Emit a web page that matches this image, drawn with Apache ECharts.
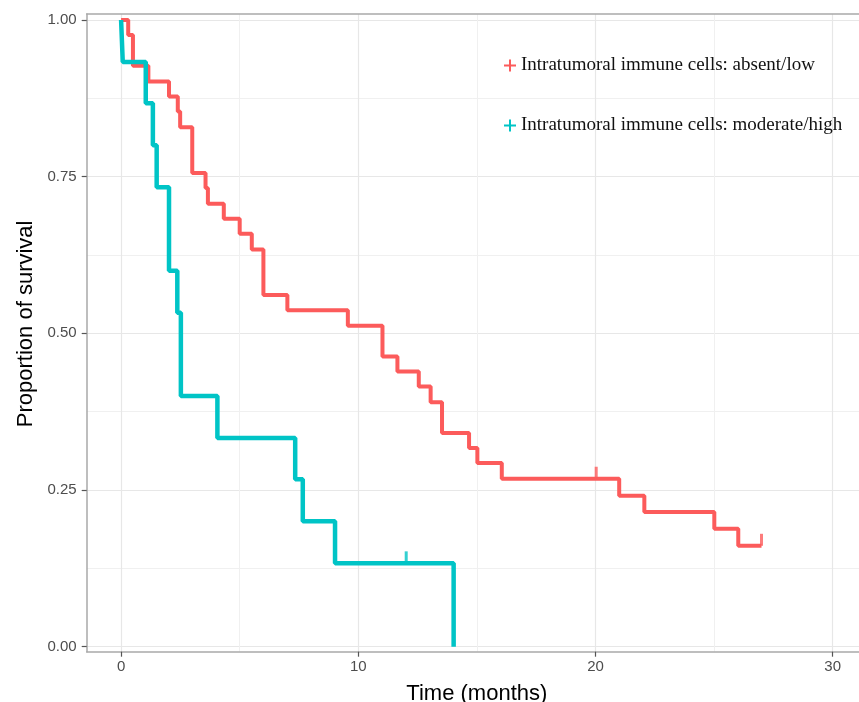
<!DOCTYPE html>
<html>
<head>
<meta charset="utf-8">
<script src="https://cdn.jsdelivr.net/npm/echarts@6/dist/echarts.min.js"></script>
<style>
html,body{margin:0;padding:0;background:#fff;}
#chart{width:859px;height:702px;}
</style>
</head>
<body>
<div id="chart"></div>
<script>
// ---- data ----
const redName = 'Intratumoral immune cells: absent/low';
const cyanName = 'Intratumoral immune cells: moderate/high';

const redTime = [0, 0.3, 0.5, 1.15, 2.02, 2.39, 2.49, 3.0, 3.56, 3.66, 4.33, 5.0, 5.51, 6.0, 7.01, 9.56, 11.02, 11.65, 12.55, 13.05, 13.53, 14.67, 15.02, 16.05, 21.0, 22.06, 25.01, 26.02, 27.0];
const redSurv = [1, 0.976, 0.927, 0.902, 0.878, 0.854, 0.829, 0.756, 0.732, 0.707, 0.683, 0.659, 0.634, 0.561, 0.537, 0.512, 0.463, 0.439, 0.415, 0.390, 0.341, 0.317, 0.293, 0.268, 0.241, 0.215, 0.188, 0.161, 0.161];
const redCensorTime = [20.03, 27.0];
const redCensorSurv = [0.268, 0.161];

const cyanTime = [0, 0.07, 1.04, 1.34, 1.5, 2.02, 2.37, 2.52, 4.06, 7.34, 7.66, 9.02, 14.02];
const cyanSurv = [1, 0.933, 0.867, 0.8, 0.733, 0.6, 0.533, 0.4, 0.333, 0.267, 0.2, 0.133, 0];
const cyanCensorTime = [12.02];
const cyanCensorSurv = [0.133];

const xMajorTicks = [0, 10, 20, 30];
const xMinorTicks = [5, 15, 25];
const yMajorTicks = [0, 0.25, 0.5, 0.75, 1];
const yMinorTicks = [0.125, 0.375, 0.625, 0.875];

// ---- styles ----
const RED = '#fc5b5b';
const CYAN = '#00c4c6';
const AXIS_GREY = '#a9a9a9';
const GRID_MAJOR = '#e7e7e7';
const GRID_MINOR = '#f0f0f0';
const plusIcon = 'path://M5,0H7V5H12V7H7V12H5V7H0V5H5Z';

function zip(a, b) { return a.map((v, i) => [v, b[i]]); }

const xMin = -1.45, xMax = 31.11, yMin = -0.008, yMax = 1.0096;

const chart = echarts.init(document.getElementById('chart'), null, {renderer: 'canvas'});
chart.setOption({
  animation: false,
  backgroundColor: '#fff',
  grid: {left: 86.7, right: 0, top: 14, bottom: 50.3, containLabel: false, outerBoundsMode: 'none'},
  legend: {
    orient: 'vertical',
    left: 499, top: 51,
    itemGap: 41,
    itemWidth: 12, itemHeight: 12,
    textStyle: {fontFamily: 'Liberation Serif', fontSize: 19, color: '#111'},
    data: [
      {name: redName, icon: plusIcon, itemStyle: {color: RED}},
      {name: cyanName, icon: plusIcon, itemStyle: {color: CYAN}}
    ]
  },
  xAxis: [
    {
      type: 'value', position: 'bottom', min: xMin, max: xMax,
      name: 'Time (months)', nameLocation: 'middle', nameGap: 31,
      nameTextStyle: {fontFamily: 'Liberation Sans', fontSize: 22, color: '#000', padding: [0, 0, 0, 8]},
      axisLine: {show: true, onZero: false, lineStyle: {color: AXIS_GREY, width: 1.5}},
      axisTick: {show: true, length: 5, customValues: xMajorTicks, lineStyle: {color: '#555', width: 1.2}},
      axisLabel: {customValues: xMajorTicks, margin: 8, fontFamily: 'Liberation Sans', fontSize: 15, color: '#4d4d4d'},
      splitLine: {show: true, lineStyle: {color: GRID_MAJOR, width: 1.2}}
    },
    {
      type: 'value', position: 'top', min: xMin, max: xMax,
      axisLine: {show: true, onZero: false, lineStyle: {color: AXIS_GREY, width: 1.5}},
      axisTick: {show: false, customValues: xMinorTicks},
      axisLabel: {show: false},
      splitLine: {show: true, lineStyle: {color: GRID_MINOR, width: 1}}
    }
  ],
  yAxis: [
    {
      type: 'value', position: 'left', min: yMin, max: yMax,
      name: 'Proportion of survival', nameLocation: 'middle', nameGap: 45,
      nameTextStyle: {fontFamily: 'Liberation Sans', fontSize: 22, color: '#000', padding: [0, 0, 0, 18]},
      axisLine: {show: true, onZero: false, lineStyle: {color: AXIS_GREY, width: 1.5}},
      axisTick: {show: true, length: 5, customValues: yMajorTicks, lineStyle: {color: '#555', width: 1.2}},
      axisLabel: {customValues: yMajorTicks, margin: 10, fontFamily: 'Liberation Sans', fontSize: 15, color: '#4d4d4d',
                  formatter: v => Number(v).toFixed(2)},
      splitLine: {show: true, lineStyle: {color: GRID_MAJOR, width: 1.2}}
    },
    {
      type: 'value', position: 'right', min: yMin, max: yMax,
      axisLine: {show: false},
      axisTick: {show: false, customValues: yMinorTicks},
      axisLabel: {show: false},
      splitLine: {show: true, lineStyle: {color: GRID_MINOR, width: 1}}
    }
  ],
  series: [
    {
      name: redName, type: 'line', step: 'end', xAxisIndex: 0, yAxisIndex: 0,
      data: zip(redTime, redSurv), symbol: 'none', clip: false,
      lineStyle: {color: RED, width: 4}, itemStyle: {color: RED}
    },
    {
      name: redName, type: 'scatter', xAxisIndex: 0, yAxisIndex: 0,
      data: zip(redCensorTime, redCensorSurv), symbol: 'rect', symbolSize: [3, 12], symbolOffset: [0, -6],
      itemStyle: {color: RED}, clip: false
    },
    {
      name: cyanName, type: 'line', step: 'end', xAxisIndex: 0, yAxisIndex: 0,
      data: zip(cyanTime, cyanSurv), symbol: 'none', clip: false,
      lineStyle: {color: CYAN, width: 4.5}, itemStyle: {color: CYAN}
    },
    {
      name: cyanName, type: 'scatter', xAxisIndex: 0, yAxisIndex: 0,
      data: zip(cyanCensorTime, cyanCensorSurv), symbol: 'rect', symbolSize: [3, 12], symbolOffset: [0, -6],
      itemStyle: {color: CYAN}, clip: false
    }
  ]
});
</script>
</body>
</html>
